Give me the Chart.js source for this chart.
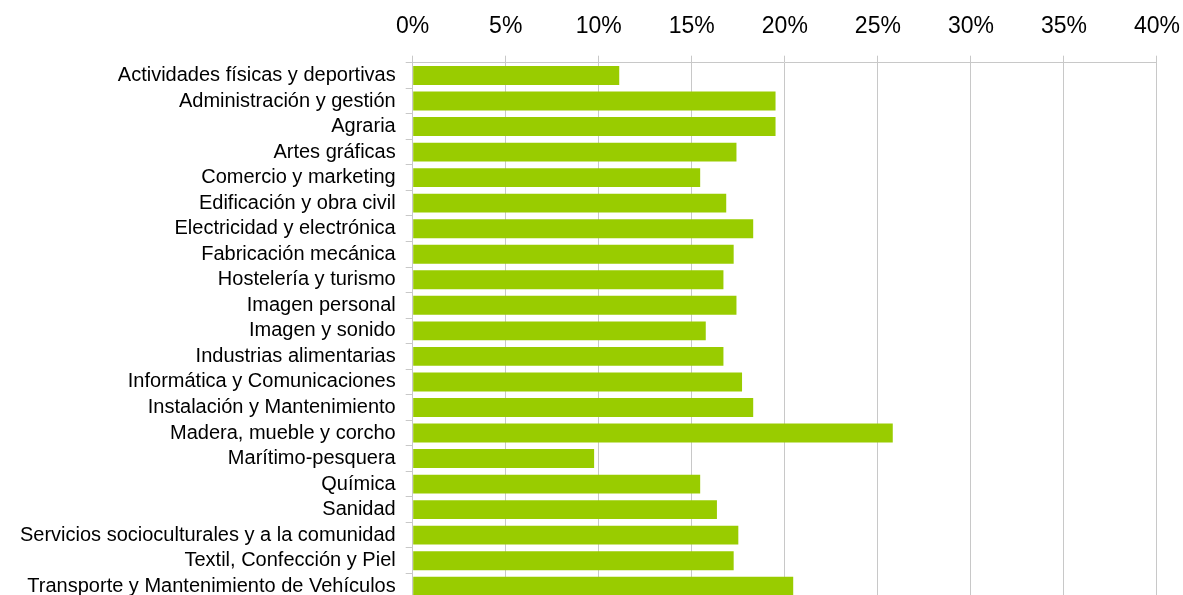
<!DOCTYPE html>
<html>
<head>
<meta charset="utf-8">
<script src="https://cdn.jsdelivr.net/npm/chart.js@4"></script>
<style>
  html, body { margin: 0; padding: 0; background: #fff; overflow: hidden; }
  #wrap { width: 1195px; height: 621px; }
</style>
</head>
<body>
<div id="wrap"><canvas id="myChart"></canvas></div>
<script>
const familias = [
    'Actividades físicas y deportivas',
    'Administración y gestión',
    'Agraria',
    'Artes gráficas',
    'Comercio y marketing',
    'Edificación y obra civil',
    'Electricidad y electrónica',
    'Fabricación mecánica',
    'Hostelería y turismo',
    'Imagen personal',
    'Imagen y sonido',
    'Industrias alimentarias',
    'Informática y Comunicaciones',
    'Instalación y Mantenimiento',
    'Madera, mueble y corcho',
    'Marítimo-pesquera',
    'Química',
    'Sanidad',
    'Servicios socioculturales y a la comunidad',
    'Textil, Confección y Piel',
    'Transporte y Mantenimiento de Vehículos'
]
const porcentajes = [
    11.1, 19.5, 19.5, 17.4, 15.45, 16.85, 18.3, 17.25, 16.7, 17.4, 15.75,
    16.7, 17.7, 18.3, 25.8, 9.75, 15.45, 16.35, 17.5, 17.25, 20.45
]
const ejeMin = 0
const ejeMax = 40
const ejePaso = 5

const ctx = document.getElementById('myChart')
const myChart = new Chart(ctx, {
    type: 'bar',
    data: {
        labels: familias,
        datasets: [{
            data: porcentajes,
            backgroundColor: '#99cc00',
            borderWidth: 0,
            categoryPercentage: 1,
            barPercentage: 0.74
        }]
    },
    options: {
        indexAxis: 'y',
        responsive: true,
        maintainAspectRatio: false,
        animation: false,
        layout: { padding: 0 },
        plugins: {
            legend: { display: false },
            tooltip: { enabled: false }
        },
        scales: {
            x: {
                position: 'top',
                min: ejeMin,
                max: ejeMax,
                ticks: {
                    stepSize: ejePaso,
                    color: '#000',
                    padding: 15,
                    font: { family: 'Liberation Sans', size: 23 },
                    callback: v => v + '%'
                },
                grid: { color: '#c8c8c8', lineWidth: 1, tickLength: 7 },
                border: { color: '#c8c8c8' },
                afterFit: s => { s.height = 62.7 }
            },
            y: {
                ticks: {
                    color: '#000',
                    padding: 10,
                    autoSkip: false,
                    font: { family: 'Liberation Sans', size: 20 }
                },
                grid: { drawOnChartArea: false, color: '#c8c8c8', tickLength: 7 },
                border: { color: '#c8c8c8' },
                afterFit: s => { s.width = 412.7 }
            }
        }
    }
})
</script>
</body>
</html>
